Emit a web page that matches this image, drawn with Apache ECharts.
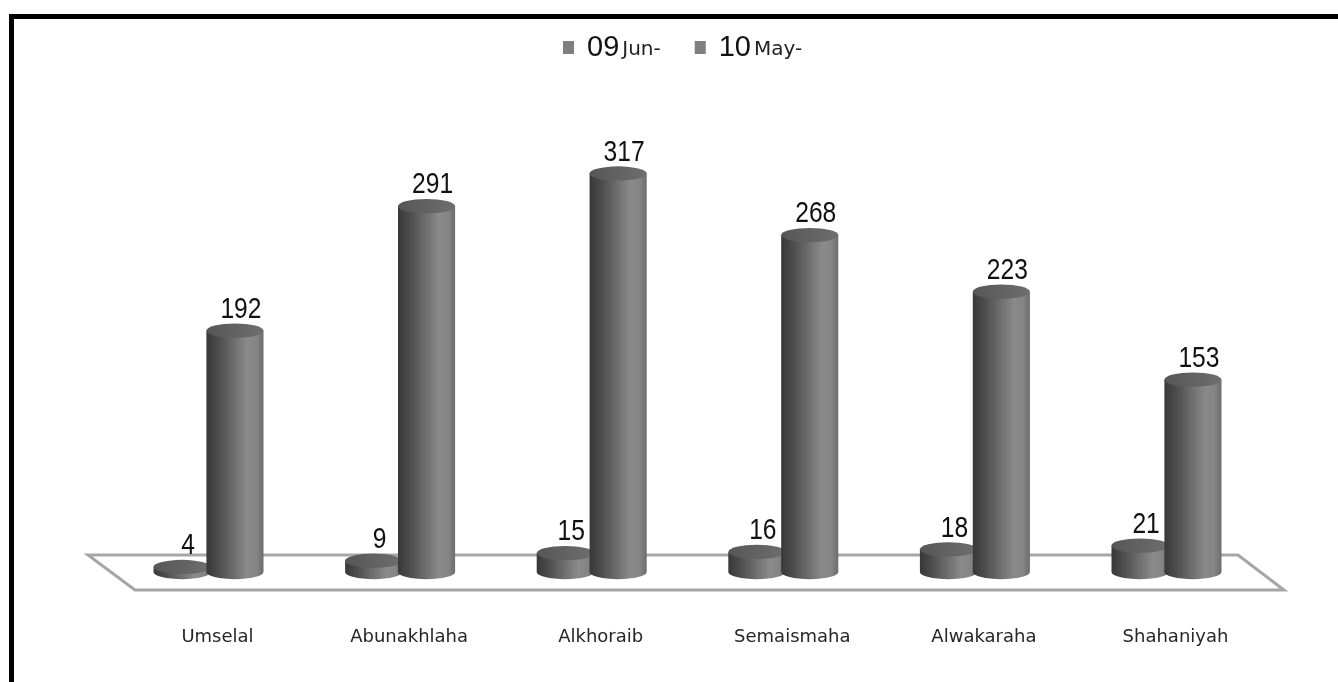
<!DOCTYPE html>
<html>
<head>
<meta charset="utf-8">
<script src="https://cdn.jsdelivr.net/npm/echarts@6/dist/echarts.min.js"></script>
<style>
  html, body { margin: 0; padding: 0; background: #fff; }
  #chart { width: 1338px; height: 682px; }
</style>
</head>
<body>
<div id="chart"></div>
<script>
// Per-centre counts for the two periods
const categories = ['Umselal', 'Abunakhlaha', 'Alkhoraib', 'Semaismaha', 'Alwakaraha', 'Shahaniyah'];
const seriesNames = ['09Jun-', '10May-'];
const jun09 = [4, 9, 15, 16, 18, 21];
const may10 = [192, 291, 317, 268, 223, 153];

const chart = echarts.init(document.getElementById('chart'));

const valueFont = "'Liberation Sans', Arial, sans-serif";

// Cylinder drawn from value 0 up to the value, shifted inside its category band
function cylinder(offset) {
  return function (params, api) {
    const cat = api.value(0);
    const val = api.value(1);
    const base = api.coord([cat, 0]);
    const top = api.coord([cat, val]);
    const band = api.size([1, 0])[0];
    const cx = base[0] + offset * band;
    const rx = band * 0.149;
    const ry = rx * 0.25;
    const by = base[1];
    const ty = top[1];
    const bodyFill = new echarts.graphic.LinearGradient(0, 0, 1, 0, [
      { offset: 0, color: '#383838' },
      { offset: 0.2, color: '#4c4c4c' },
      { offset: 0.72, color: '#8a8a8a' },
      { offset: 0.88, color: '#858585' },
      { offset: 1, color: '#6c6c6c' }
    ]);
    const topFill = new echarts.graphic.LinearGradient(0, 0, 1, 0, [
      { offset: 0, color: '#565656' },
      { offset: 1, color: '#6e6e6e' }
    ]);
    const body =
      'M' + (cx - rx) + ',' + ty +
      ' L' + (cx - rx) + ',' + by +
      ' A' + rx + ',' + ry + ' 0 0 0 ' + (cx + rx) + ',' + by +
      ' L' + (cx + rx) + ',' + ty + ' Z';
    const cap =
      'M' + (cx - rx) + ',' + ty +
      ' A' + rx + ',' + ry + ' 0 0 1 ' + (cx + rx) + ',' + ty +
      ' A' + rx + ',' + ry + ' 0 0 1 ' + (cx - rx) + ',' + ty + ' Z';
    return {
      type: 'group',
      children: [
        { type: 'path', shape: { pathData: body }, style: { fill: bodyFill } },
        { type: 'path', shape: { pathData: cap }, style: { fill: topFill } },
        {
          // value label, narrowed horizontally
          type: 'text',
          x: cx + 6,
          y: ty - 21,
          scaleX: 0.82,
          style: {
            text: String(val),
            x: 0,
            y: 0,
            align: 'center',
            verticalAlign: 'middle',
            font: 'normal 30px ' + valueFont,
            fill: '#111'
          }
        }
      ]
    };
  };
}

function toData(values) {
  return values.map((v, i) => [i, v]);
}

const legendRich = {
  n: { fontFamily: valueFont, fontSize: 29, color: '#111', verticalAlign: 'bottom', padding: [0, 0, 0, 8] },
  m: { fontFamily: "'DejaVu Sans', sans-serif", fontSize: 20, color: '#222', verticalAlign: 'bottom', padding: [0, 0, 2, 3] }
};

const option = {
  animation: false,
  backgroundColor: '#fff',
  legend: {
    left: 558,
    top: 28,
    itemWidth: 11,
    itemHeight: 13,
    itemGap: 34,
    icon: 'rect',
    data: seriesNames,
    formatter: function (name) {
      return '{n|' + name.slice(0, 2) + '}{m|' + name.slice(2) + '}';
    },
    textStyle: { rich: legendRich }
  },
  grid: { left: 112.7, right: 75.7, top: 132, bottom: 110 },
  xAxis: {
    type: 'category',
    data: categories,
    axisLine: { show: false },
    axisTick: { show: false },
    axisLabel: {
      margin: 56,
      padding: [0, 0, 0, 18],
      fontFamily: "'DejaVu Sans', sans-serif",
      fontSize: 18,
      color: '#262626'
    }
  },
  yAxis: {
    type: 'value',
    min: 0,
    max: 350,
    show: false
  },
  graphic: [
    {
      type: 'rect',
      z: 0,
      shape: { x: 11.5, y: 16.5, width: 1400, height: 800 },
      style: { fill: 'none', stroke: '#000', lineWidth: 5 }
    },
    {
      type: 'polygon',
      z: 1,
      shape: { points: [[88, 555], [1238, 555], [1284, 590], [135, 590]] },
      style: { fill: '#fff', stroke: '#a6a6a6', lineWidth: 3 }
    }
  ],
  series: [
    {
      name: seriesNames[0],
      type: 'custom',
      z: 5,
      itemStyle: { color: '#7f7f7f' },
      renderItem: cylinder(-0.138),
      encode: { x: 0, y: 1 },
      data: toData(jun09)
    },
    {
      name: seriesNames[1],
      type: 'custom',
      z: 6,
      itemStyle: { color: '#7f7f7f' },
      renderItem: cylinder(0.138),
      encode: { x: 0, y: 1 },
      data: toData(may10)
    }
  ]
};

chart.setOption(option);
</script>
</body>
</html>
